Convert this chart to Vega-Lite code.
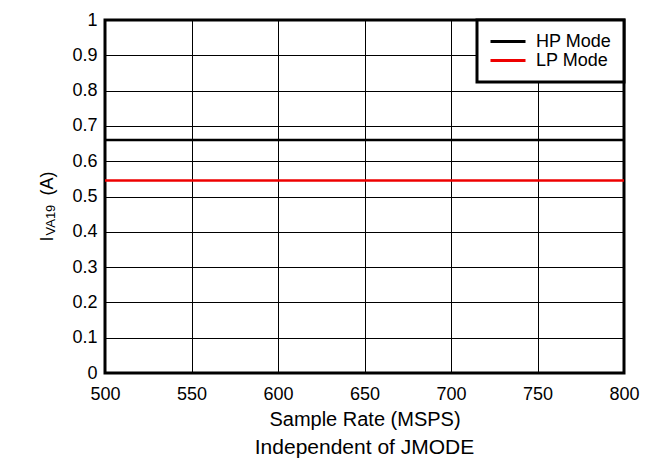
{
  "$schema": "https://vega.github.io/schema/vega-lite/v6.json",
  "width": 519,
  "height": 353,
  "autosize": {"type": "none"},
  "padding": {"left": 105, "top": 20, "right": 38, "bottom": 87},
  "background": "white",
  "config": {
    "font": "Liberation Sans",
    "view": {"stroke": "black", "strokeWidth": 3},
    "axis": {"labelColor": "black", "titleColor": "black", "titleFontWeight": "normal"},
    "legend": {"strokeWidth": 3}
  },
  "title": {
    "text": "Independent of JMODE",
    "orient": "bottom",
    "anchor": "middle",
    "fontSize": 21,
    "fontWeight": "normal",
    "color": "black",
    "offset": 8
  },
  "data": {
    "values": [
      {"rate": 500, "current": 0.66, "mode": "HP Mode"},
      {"rate": 550, "current": 0.66, "mode": "HP Mode"},
      {"rate": 600, "current": 0.66, "mode": "HP Mode"},
      {"rate": 650, "current": 0.66, "mode": "HP Mode"},
      {"rate": 700, "current": 0.66, "mode": "HP Mode"},
      {"rate": 750, "current": 0.66, "mode": "HP Mode"},
      {"rate": 800, "current": 0.66, "mode": "HP Mode"},
      {"rate": 500, "current": 0.545, "mode": "LP Mode"},
      {"rate": 550, "current": 0.545, "mode": "LP Mode"},
      {"rate": 600, "current": 0.545, "mode": "LP Mode"},
      {"rate": 650, "current": 0.545, "mode": "LP Mode"},
      {"rate": 700, "current": 0.545, "mode": "LP Mode"},
      {"rate": 750, "current": 0.545, "mode": "LP Mode"},
      {"rate": 800, "current": 0.545, "mode": "LP Mode"}
    ]
  },
  "encoding": {
    "x": {
      "field": "rate",
      "type": "quantitative",
      "scale": {"domain": [500, 800], "nice": false, "zero": false},
      "axis": {
        "values": [500, 550, 600, 650, 700, 750, 800],
        "format": "d",
        "title": "Sample Rate (MSPS)",
        "titleFontSize": 20,
        "titlePadding": 6,
        "labelFontSize": 18,
        "labelPadding": 12,
        "ticks": false,
        "tickSize": 0,
        "domain": false,
        "grid": true,
        "gridColor": "black",
        "gridWidth": 1,
        "gridOpacity": 1,
        "labelFlush": false
      }
    }
  },
  "layer": [
    {
      "mark": {"type": "line", "strokeWidth": 2.5},
      "encoding": {
        "y": {
          "field": "current",
          "type": "quantitative",
          "scale": {"domain": [0, 1], "nice": false},
          "axis": {
            "values": [0, 0.1, 0.2, 0.3, 0.4, 0.5, 0.6, 0.7, 0.8, 0.9, 1],
            "format": "~g",
            "title": "I",
            "titleFontSize": 18,
            "titleAngle": -90,
            "titleAlign": "left",
            "titleBaseline": "alphabetic",
            "titleX": -53,
            "titleY": 221,
            "labelFontSize": 18,
            "labelPadding": 8,
            "ticks": false,
            "tickSize": 0,
            "domain": false,
            "grid": true,
            "gridColor": "black",
            "gridWidth": 1,
            "gridOpacity": 1,
            "labelFlush": false
          }
        },
        "color": {
          "field": "mode",
          "type": "nominal",
          "scale": {"domain": ["HP Mode", "LP Mode"], "range": ["#000000", "#ee0000"]},
          "legend": {
            "title": null,
            "orient": "top-right",
            "offset": 0,
            "fillColor": "white",
            "strokeColor": "black",
            "padding": 12,
            "symbolType": "stroke",
            "symbolSize": 1225,
            "symbolStrokeWidth": 3,
            "clipHeight": 19,
            "labelFontSize": 18,
            "labelColor": "black",
            "labelOffset": 9,
            "rowPadding": 0
          }
        }
      }
    },
    {
      "mark": {"type": "line", "opacity": 0},
      "encoding": {
        "detail": {"field": "mode"},
        "y": {
          "field": "current",
          "type": "quantitative",
          "axis": {
            "orient": "left",
            "title": "VA19",
            "titleFontSize": 13,
            "titleAngle": -90,
            "titleAlign": "left",
            "titleBaseline": "alphabetic",
            "titleX": -51,
            "titleY": 215,
            "labels": false,
            "ticks": false,
            "domain": false,
            "grid": false
          }
        }
      }
    },
    {
      "mark": {"type": "line", "opacity": 0},
      "encoding": {
        "detail": {"field": "mode"},
        "y": {
          "field": "current",
          "type": "quantitative",
          "axis": {
            "orient": "left",
            "title": "(A)",
            "titleFontSize": 18,
            "titleAngle": -90,
            "titleAlign": "left",
            "titleBaseline": "alphabetic",
            "titleX": -53,
            "titleY": 175,
            "labels": false,
            "ticks": false,
            "domain": false,
            "grid": false
          }
        }
      }
    }
  ],
  "resolve": {"axis": {"y": "independent"}}
}
